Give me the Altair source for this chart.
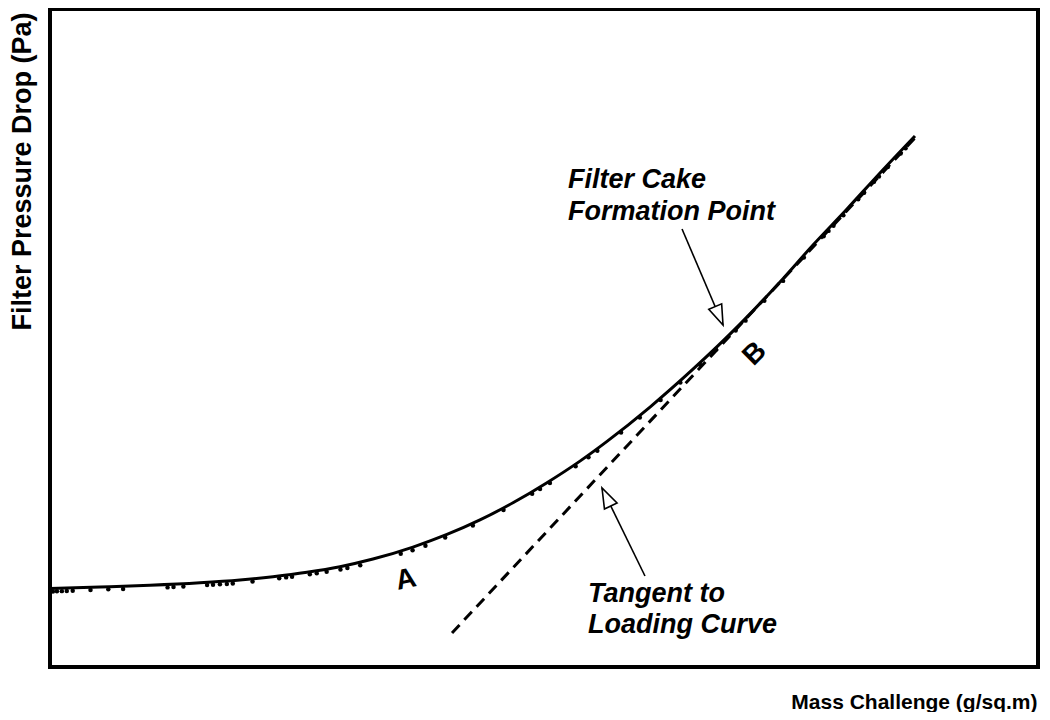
import altair as alt
import pandas as pd

# Loading curve (fitted line), arbitrary units
curve_x = [0, 5.06, 10.12, 15.18, 19.23, 22.57, 26.01, 29.35, 32.69, 36.74, 40.18,
           43.52, 46.86, 50.30, 53.64, 56.38, 60.73, 65.08, 69.84, 73.89, 77.23,
           80.67, 84.01, 87.55]
curve_y = [11.93, 12.16, 12.42, 12.80, 13.23, 13.73, 14.40, 15.25, 16.41, 18.23, 20.14,
           22.35, 24.96, 28.01, 31.29, 34.29, 39.51, 45.26, 52.11, 58.51, 64.13,
           69.60, 75.08, 80.70]

# Measured data points
dot_x = [0.3, 0.7, 1.2, 1.7, 2.3, 4.1, 5.9, 7.4, 11.9, 12.5, 13.5, 15.9, 16.5, 17.2,
         17.9, 18.5, 20.5, 23.2, 23.9, 24.5, 26.3, 27.0, 28.0, 29.4, 30.1, 31.4, 35.5,
         36.7, 38.0, 40.0, 42.8, 45.9, 48.8, 49.6, 50.6, 53.2, 54.5, 55.4, 57.8, 59.7,
         61.8, 63.8, 65.8, 67.4, 69.4, 70.4, 72.3, 74.2, 76.3, 78.3, 78.8, 79.3, 80.3,
         81.8, 82.4, 83.4, 83.9, 84.8, 86.1, 86.6]
dot_y = [11.48, 11.50, 11.53, 11.56, 11.60, 11.71, 11.80, 11.85, 12.10, 12.15, 12.24,
         12.45, 12.50, 12.57, 12.63, 12.69, 12.99, 13.48, 13.62, 13.73, 14.08, 14.24,
         14.47, 14.80, 15.03, 15.47, 17.20, 17.75, 18.44, 19.69, 21.52, 23.86, 26.33,
         27.04, 27.95, 30.51, 31.88, 32.87, 35.64, 37.92, 40.57, 43.22, 45.95, 48.25,
         51.13, 52.64, 55.65, 58.68, 62.22, 65.48, 66.28, 67.07, 68.66, 71.10, 72.09,
         73.73, 74.55, 75.98, 78.05, 78.84]

# Tangent to loading curve
tangent_x = [40.69, 87.55]
tangent_y = [5.17, 80.40]

# Annotation texts
note_text = ["Filter Cake", "Formation Point", "Tangent to", "Loading Curve"]
note_x = [52.43, 52.43, 54.45, 54.45]
note_y = [72.80, 67.93, 9.88, 5.17]

label_text = ["A", "B"]
label_x = [36.03, 71.36]
label_y = [13.22, 47.57]
label_angle = [348, 315]

# Arrows: start -> tip
arrow_id = ["cake", "cake", "tangent", "tangent"]
arrow_x = [63.97, 68.12, 60.22, 55.87]
arrow_y = [66.57, 51.98, 13.83, 27.20]
head_x = [68.12, 55.87]
head_y = [51.98, 27.20]
head_angle = [157, 334]

FONT = "Liberation Sans"

xs = alt.Scale(domain=[0, 100], nice=False, zero=False)
ys = alt.Scale(domain=[0, 100], nice=False, zero=False)

x_axis = alt.Axis(labels=False, ticks=False, domain=False, grid=False,
                  title="Mass Challenge (g/sq.m)", titleFont=FONT, titleFontSize=21,
                  titleFontWeight="bold", titleColor="black", titleAlign="right",
                  titleAnchor="end", titleX=987, titleY=41, titleBaseline="alphabetic")
y_axis = alt.Axis(labels=False, ticks=False, domain=False, grid=False,
                  title="Filter Pressure Drop (Pa)", titleFont=FONT, titleFontSize=27,
                  titleFontWeight="bold", titleColor="black", titleAngle=270,
                  titleAlign="right", titleAnchor="end", titleX=-20, titleY=3,
                  titleBaseline="alphabetic")

curve_df = pd.DataFrame({"x": curve_x, "y": curve_y})
dot_df = pd.DataFrame({"x": dot_x, "y": dot_y})
tan_df = pd.DataFrame({"x": tangent_x, "y": tangent_y})
note_df = pd.DataFrame({"t": note_text, "x": note_x, "y": note_y})
lab_df = pd.DataFrame({"t": label_text, "x": label_x, "y": label_y, "a": label_angle})
arr_df = pd.DataFrame({"id": arrow_id, "x": arrow_x, "y": arrow_y})
head_df = pd.DataFrame({"x": head_x, "y": head_y, "a": head_angle})

base_x = alt.X("x:Q", scale=xs, axis=x_axis)
base_y = alt.Y("y:Q", scale=ys, axis=y_axis)

dots = alt.Chart(dot_df).mark_point(filled=True, color="black", size=20, opacity=1).encode(
    x=base_x, y=base_y)

curve = alt.Chart(curve_df).mark_line(color="black", strokeWidth=3, interpolate="monotone").encode(
    x=base_x, y=base_y)

tangent = alt.Chart(tan_df).mark_line(color="black", strokeWidth=3, strokeDash=[11, 7]).encode(
    x=base_x, y=base_y)

notes = alt.Chart(note_df).mark_text(font=FONT, fontSize=27, fontWeight="bold", fontStyle="italic",
                                     align="left", baseline="alphabetic", color="black").encode(
    x=base_x, y=base_y, text="t:N")

labels = alt.Chart(lab_df).mark_text(font=FONT, fontSize=28, fontWeight="bold",
                                     align="center", baseline="middle", color="black").encode(
    x=base_x, y=base_y, text="t:N", angle=alt.Angle("a:Q", scale=None))

arrows = alt.Chart(arr_df).mark_line(color="black", strokeWidth=1.6).encode(
    x=base_x, y=base_y, detail="id:N")

heads = alt.Chart(head_df).mark_point(shape="M0,0L-0.35,1L0.35,1Z", size=1600, filled=True,
                                      fill="white", stroke="black", strokeWidth=1.6,
                                      opacity=1, fillOpacity=1).encode(
    x=base_x, y=base_y, angle=alt.Angle("a:Q", scale=None))

chart = alt.layer(tangent, curve, dots, arrows, heads, notes, labels).properties(
    width=988, height=658,
    background="white",
    autosize=alt.AutoSizeParams(type="none"),
    padding={"left": 42, "top": 1, "right": 4, "bottom": 45},
).configure_view(stroke="black", strokeWidth=4, fill="white", strokeOpacity=1)

chart.save("out.html", embed_options={"renderer": "svg", "actions": False})
